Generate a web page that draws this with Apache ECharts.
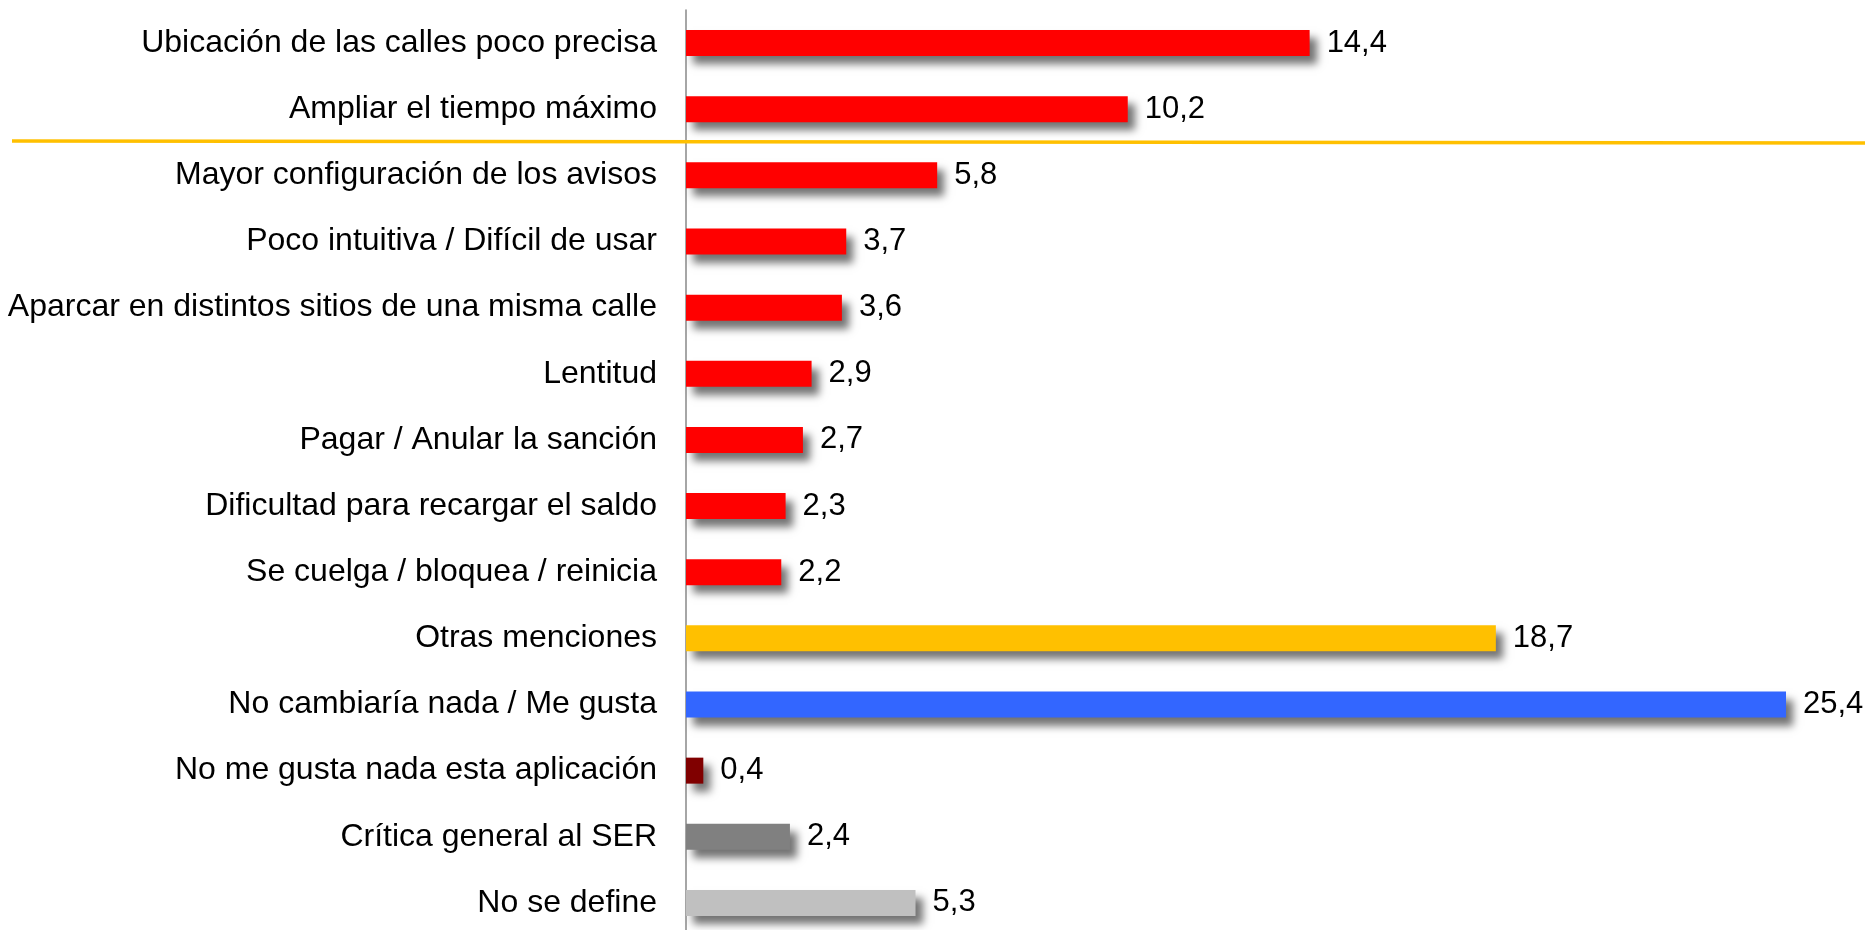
<!DOCTYPE html>
<html>
<head>
<meta charset="utf-8">
<script src="https://cdn.jsdelivr.net/npm/echarts@6/dist/echarts.min.js"></script>
<style>
html, body { margin: 0; padding: 0; background: #fff; overflow: hidden; }
#main { width: 1865px; height: 940px; }
</style>
</head>
<body>
<div id="main"></div>
<script>
var categories = [
    'Ubicación de las calles poco precisa',
    'Ampliar el tiempo máximo',
    'Mayor configuración de los avisos',
    'Poco intuitiva / Difícil de usar',
    'Aparcar en distintos sitios de una misma calle',
    'Lentitud',
    'Pagar / Anular la sanción',
    'Dificultad para recargar el saldo',
    'Se cuelga / bloquea / reinicia',
    'Otras menciones',
    'No cambiaría nada / Me gusta',
    'No me gusta nada esta aplicación',
    'Crítica general al SER',
    'No se define'
];
var values = [14.4, 10.2, 5.8, 3.7, 3.6, 2.9, 2.7, 2.3, 2.2, 18.7, 25.4, 0.4, 2.4, 5.3];
var barColors = ['#FF0000', '#FF0000', '#FF0000', '#FF0000', '#FF0000', '#FF0000', '#FF0000',
    '#FF0000', '#FF0000', '#FFC000', '#3366FF', '#800000', '#808080', '#C0C0C0'];

var myChart = echarts.init(document.getElementById('main'));

var option = {
    animation: false,
    textStyle: { fontFamily: 'Liberation Sans, Arial, sans-serif' },
    grid: { left: 686, top: 10, width: 1126, height: 926 },
    xAxis: {
        type: 'value',
        min: 0,
        max: 26,
        show: false
    },
    yAxis: {
        type: 'category',
        data: categories,
        inverse: true,
        axisLine: { lineStyle: { color: '#888', width: 1.5 } },
        axisTick: { show: false },
        axisLabel: { color: '#000', fontSize: 32, margin: 29 }
    },
    graphic: [{
        type: 'line',
        shape: { x1: 12, y1: 141, x2: 1865, y2: 143 },
        style: { stroke: '#FFC000', lineWidth: 3.5 },
        z: 10
    }],
    series: [{
        type: 'bar',
        barWidth: 26,
        data: values.map(function(v, i) {
            return { value: v, itemStyle: { color: barColors[i] } };
        }),
        itemStyle: {
            shadowColor: 'rgba(0,0,0,0.55)',
            shadowBlur: 8,
            shadowOffsetX: 7,
            shadowOffsetY: 8
        },
        label: {
            show: true,
            position: 'right',
            distance: 17,
            color: '#000',
            fontSize: 31,
            formatter: function(p) {
                return p.value.toFixed(1).replace('.', ',');
            }
        }
    }]
};
myChart.setOption(option);
</script>
</body>
</html>
